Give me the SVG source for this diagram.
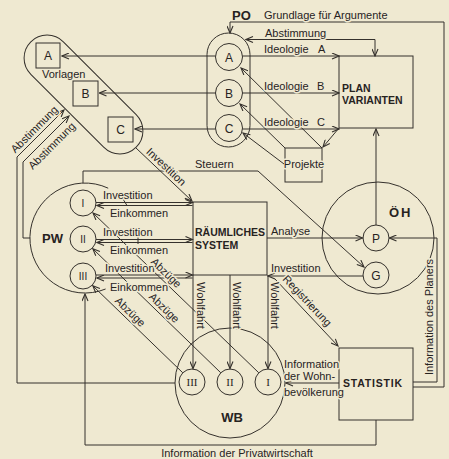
<svg xmlns="http://www.w3.org/2000/svg" width="449" height="459" viewBox="0 0 449 459">
<defs>
<style>
.ln{fill:none;stroke:#35312c;stroke-width:1}
.ar{marker-end:url(#ah)}
.t{font-family:"Liberation Sans",Arial,sans-serif;font-size:11px;fill:#27231f}
.s{font-family:"Liberation Serif","Times New Roman",serif;font-size:11px;fill:#27231f}
.b{font-weight:bold}
.big{font-size:13px;font-weight:bold}
.lt{font-size:12px}
.k{paint-order:stroke fill;stroke:#efe9d1;stroke-width:3px;stroke-linejoin:round}
.m{text-anchor:middle}
</style>
<marker id="ah" viewBox="-8 -3.5 9 7" refX="0" refY="0" markerWidth="9" markerHeight="7" markerUnits="userSpaceOnUse" orient="auto-start-reverse">
<path d="M-7,-3 L0,0 L-7,3" fill="none" stroke="#35312c" stroke-width="1.1"/>
</marker>
</defs>
<rect width="449" height="459" fill="#efe9d1"/>

<g id="vorlagen">
<rect class="ln" x="9" y="71.5" width="149" height="46" rx="23" transform="rotate(45 83.5 94.5)"/>
<rect class="ln" x="36" y="43" width="24" height="25"/>
<rect class="ln" x="73" y="81" width="25" height="25"/>
<rect class="ln" x="108" y="117" width="25" height="25"/>
<text class="t lt m" x="48" y="60">A</text>
<text class="t lt m" x="85.5" y="98">B</text>
<text class="t lt m" x="120.5" y="134">C</text>
<text class="t" x="42" y="78">Vorlagen</text>
</g>

<g id="po">
<rect class="ln" x="207" y="33" width="43" height="114" rx="21.5"/>
<circle class="ln" cx="229" cy="57" r="13.5"/>
<circle class="ln" cx="229" cy="93" r="13.5"/>
<circle class="ln" cx="229" cy="128" r="13.5"/>
<text class="t lt m" x="229" y="61.5">A</text>
<text class="t lt m" x="229" y="97.5">B</text>
<text class="t lt m" x="229" y="132.5">C</text>
<text class="t big" x="232" y="20">PO</text>
</g>

<g id="plan">
<rect class="ln" x="339" y="56" width="74" height="72"/>
<text class="t b" style="font-size:10.5px" x="342" y="92">PLAN</text>
<text class="t b" style="font-size:10.5px" x="342" y="104">VARIANTEN</text>
</g>

<g id="projekte">
<rect class="ln" x="285" y="148" width="37" height="34"/>
<text class="t m k" x="304" y="168">Projekte</text>
</g>

<g id="rs">
<rect class="ln" x="193" y="202" width="74" height="73"/>
<text class="t b" style="font-size:10.5px" x="195" y="236">RÄUMLICHES</text>
<text class="t b" style="font-size:10.5px" x="195" y="249">SYSTEM</text>
</g>

<g id="oeh">
<circle class="ln" cx="378" cy="238" r="56"/>
<circle class="ln" cx="376" cy="238" r="13"/>
<circle class="ln" cx="376" cy="275" r="13"/>
<text class="t lt m" x="376" y="242.5">P</text>
<text class="t lt m" x="376" y="279.5">G</text>
<text class="t big" style="letter-spacing:2px" x="389" y="217">ÖH</text>
</g>

<g id="pw">
<path class="ln" d="M108.2,188.2 A55,55 0 1,0 105.6,289"/>
<circle class="ln" cx="83" cy="203" r="13"/>
<circle class="ln" cx="83" cy="239" r="13"/>
<circle class="ln" cx="83" cy="276" r="13"/>
<text class="t m" style="font-size:10px" x="83" y="206.5">I</text>
<text class="t m" style="font-size:10px" x="83" y="242.5">II</text>
<text class="t m" style="font-size:10px" x="83" y="279.5">III</text>
<text class="t big" x="42" y="243">PW</text>
</g>

<g id="wb">
<circle class="ln" cx="230" cy="383" r="55"/>
<circle class="ln" cx="192" cy="382" r="13"/>
<circle class="ln" cx="230" cy="382" r="13"/>
<circle class="ln" cx="268" cy="382" r="13"/>
<text class="s m" x="192" y="386">III</text>
<text class="s m" x="230" y="386">II</text>
<text class="s m" x="268" y="386">I</text>
<text class="t big m" x="232" y="422">WB</text>
</g>

<g id="statistik">
<rect class="ln" x="339" y="348" width="74" height="72"/>
<text class="t b" style="font-size:10.5px;letter-spacing:0.8px" x="343" y="387">STATISTIK</text>
</g>

<g id="connectors">
<path class="ln ar" d="M413,387 H444 V22 H230 V33"/>
<path class="ln ar" style="marker-start:url(#ah)" d="M246,39.5 H375 V56"/>
<path class="ln ar" d="M215.5,56 H62"/>
<path class="ln ar" d="M242.5,56 H339"/>
<path class="ln ar" d="M215.5,93 H99.5"/>
<path class="ln ar" d="M242.5,93 H339"/>
<path class="ln ar" d="M215.5,129 H135"/>
<path class="ln ar" d="M242.5,129 H339"/>
<path class="ln ar" d="M322,148 L241,68"/>
<path class="ln ar" d="M285,148 L240,104"/>
<path class="ln ar" d="M284,164 L243,133"/>
<path class="ln ar" d="M339,128 L323,147"/>
<path class="ln ar" d="M376,225 V129"/>
<path class="ln ar" d="M267,238 H362.5"/>
<path class="ln ar" d="M413,382 H437 V238 H389.5"/>
<path class="ln ar" d="M363,276 H268"/>
<path class="ln ar" d="M83,183 V171 H258 L364,267"/>
<path class="ln ar" d="M136,148 L192,201"/>
<path class="ln ar" d="M175,383 H17 V157 L64,110"/>
<path class="ln ar" d="M30,238 H23 V162 L69,116"/>
<path class="ln ar" d="M376,420 V445 H85 V294"/>
<path class="ln ar" d="M275,279 L338,346"/>
<path class="ln ar" d="M339,383 H286"/>
<path class="ln ar" d="M193,275 V368.5"/>
<path class="ln ar" d="M230,275 V368.5"/>
<path class="ln ar" d="M268,275 V368.5"/>
<path class="ln ar" d="M258.8,372.8 L93,213"/>
<path class="ln ar" d="M220.8,372.8 L92.8,248.8"/>
<path class="ln ar" d="M182.8,372.8 L92.8,285.8"/>
<path class="ln ar" d="M96,202.5 H192.5"/>
<path class="ln ar" d="M192.5,205.5 H97"/>
<path class="ln ar" d="M96,239.5 H192.5"/>
<path class="ln ar" d="M192.5,242.5 H97"/>
<path class="ln ar" d="M96,275 H192.5"/>
<path class="ln ar" d="M192.5,278 H97"/>
<path class="ln" d="M123,199 L127,205.5"/>
<path class="ln" d="M138,237 V244"/>

<text class="t k" x="264" y="19">Grundlage für Argumente</text>
<text class="t k" x="265" y="36.5">Abstimmung</text>
<text class="t k" x="264" y="53">Ideologie<tspan x="318">A</tspan></text>
<text class="t k" x="264" y="90">Ideologie<tspan x="317">B</tspan></text>
<text class="t k" x="264" y="126">Ideologie<tspan x="317">C</tspan></text>
<text class="t k" x="195" y="168">Steuern</text>
<text class="t k m" transform="translate(166,167) rotate(43.4)" y="3.5">Investition</text>
<text class="t k m" transform="translate(34.5,129.5) rotate(-45)" y="3.5">Abstimmung</text>
<text class="t k m" transform="translate(52,146) rotate(-45)" y="3.5">Abstimmung</text>
<text class="t k" x="271" y="235">Analyse</text>
<text class="t k" x="271" y="272">Investition</text>
<text class="t k m" transform="translate(433,317) rotate(-90)">Information des Planers</text>
<text class="t k m" transform="translate(307,301) rotate(46.8)" y="3.5">Registrierung</text>
<text class="t k" x="103" y="199">Investition</text>
<text class="t k" x="110" y="217">Einkommen</text>
<text class="t k" x="103" y="236">Investition</text>
<text class="t k" x="110" y="254">Einkommen</text>
<text class="t k" x="105" y="272">Investition</text>
<text class="t k" x="110" y="291">Einkommen</text>
<text class="t k m" transform="translate(166,273) rotate(44)" y="3.5">Abzüge</text>
<text class="t k m" transform="translate(164,308) rotate(44)" y="3.5">Abzüge</text>
<text class="t k m" transform="translate(130,312) rotate(44)" y="3.5">Abzüge</text>
<text class="t k" transform="translate(197,282) rotate(90)">Wohlfahrt</text>
<text class="t k" transform="translate(233,282) rotate(90)">Wohlfahrt</text>
<text class="t k" transform="translate(271,282) rotate(90)">Wohlfahrt</text>
<text class="t k" x="284" y="368">Information</text>
<text class="t k" x="284" y="380">der Wohn-</text>
<text class="t k" x="284" y="396">bevölkerung</text>
<text class="t m" x="237" y="457">Information der Privatwirtschaft</text>
</g>
</svg>
